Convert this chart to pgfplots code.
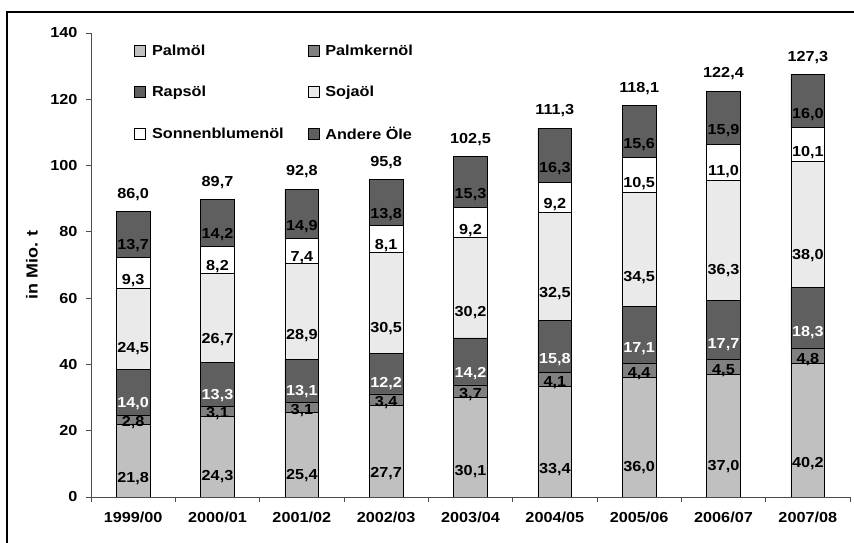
\documentclass[border=0pt]{standalone}
\usepackage{pgfplots}
\pgfplotsset{compat=1.18}
\usepackage{fontspec}
\setmainfont{Liberation Sans}[FakeStretch=1.12]
\definecolor{palm}{HTML}{C0C0C0}
\definecolor{palmkern}{HTML}{808080}
\definecolor{raps}{HTML}{5F5F5F}
\definecolor{soja}{HTML}{EAEAEA}
\definecolor{sonne}{HTML}{FFFFFF}
\definecolor{andere}{HTML}{5F5F5F}
\newcommand{\lblfont}{\bfseries\fontsize{14.5}{16}\selectfont}

\pgfplotstableread{
x palm palmkern raps soja sonne andere total
0 21.8 2.8 14.0 24.5 9.3 13.7 86.0
1 24.3 3.1 13.3 26.7 8.2 14.2 89.7
2 25.4 3.1 13.1 28.9 7.4 14.9 92.8
3 27.7 3.4 12.2 30.5 8.1 13.8 95.8
4 30.1 3.7 14.2 30.2 9.2 15.3 102.5
5 33.4 4.1 15.8 32.5 9.2 16.3 111.3
6 36.0 4.4 17.1 34.5 10.5 15.6 118.1
7 37.0 4.5 17.7 36.3 11.0 15.9 122.4
8 40.2 4.8 18.3 38.0 10.1 16.0 127.3
}\datatable

\pgfplotsset{common/.style={
  at={(91pt,46pt)}, anchor=south west,
  scale only axis, width=759pt, height=464pt,
  xmin=-0.5, xmax=8.5, ymin=0, ymax=140,
}}

\begin{document}
\begin{tikzpicture}[x=1pt,y=1pt]
\begin{axis}[
  common,
  ybar stacked, bar width=0.4,
  ytick={0,20,...,140},
  xtick={-0.5,0.5,...,8.5},
  x tick label as interval,
  xticklabels={1999/00,2000/01,2001/02,2002/03,2003/04,2004/05,2005/06,2006/07,2007/08},
  axis x line*=bottom, axis y line*=left,
  axis line style={-, black!70, line width=0.8pt},
  tick style={black!70, line width=0.8pt},
  tick align=outside,
  major tick length=5pt,
  ticklabel style={font=\lblfont},
  xticklabel style={yshift=-6pt},
  yticklabel style={xshift=-5pt},
  /pgf/number format/assume math mode=true,
  ylabel={in Mio. t},
  every axis y label/.style={at={(rel axis cs:0,0.5)}, anchor=center, rotate=90, yshift=59pt, font=\bfseries\fontsize{16}{18}\selectfont},
  every axis plot/.append style={draw=black, line width=0.7pt},
  nodes near coords,
  visualization depends on={rawy \as \rawy},
  every node near coord/.style={anchor=center, yshift={-0.25*\rawy*3.31429pt}, font=\lblfont, text=black, inner sep=1pt},
  nodes near coords={\pgfmathprintnumber[fixed, fixed zerofill, precision=1, use comma, assume math mode=true]{\pgfplotspointmeta}},
  legend columns=2,
  legend cell align=left,
  legend style={at={(rel axis cs:0.053,0.983)}, anchor=north west, draw=none, fill=none,
    font=\lblfont, row sep=25pt,
    /tikz/every odd column/.append style={column sep=4pt},
    /tikz/every even column/.append style={column sep=22pt}},
  legend image code/.code={\draw[#1,/tikz/.cd,draw=black,line width=0.6pt] (0pt,-5pt) rectangle (11pt,6pt);},
]
\addplot[fill=palm] table[x=x,y=palm] {\datatable};
\addplot[fill=palmkern] table[x=x,y=palmkern] {\datatable};
\addplot[fill=raps, nodes near coords style={text=white}] table[x=x,y=raps] {\datatable};
\addplot[fill=soja] table[x=x,y=soja] {\datatable};
\addplot[fill=sonne] table[x=x,y=sonne] {\datatable};
\addplot[fill=andere] table[x=x,y=andere] {\datatable};
\legend{Palmöl,Palmkernöl,Rapsöl,Sojaöl,Sonnenblumenöl,Andere Öle}
\end{axis}
\begin{axis}[
  common, axis lines=none, ticks=none,
  nodes near coords={\pgfmathprintnumber[fixed, fixed zerofill, precision=1, use comma, assume math mode=true]{\pgfplotspointmeta}},
  every node near coord/.style={anchor=south, yshift=10pt, font=\lblfont, text=black, inner sep=1pt},
]
\addplot[draw=none, mark=none] table[x=x,y=total] {\datatable};
\end{axis}
\draw[line width=2pt] (7,0) -- (7,531) -- (860,531);
\pgfresetboundingbox
\path[use as bounding box] (0,0) rectangle (854,543);
\end{tikzpicture}
\end{document}
